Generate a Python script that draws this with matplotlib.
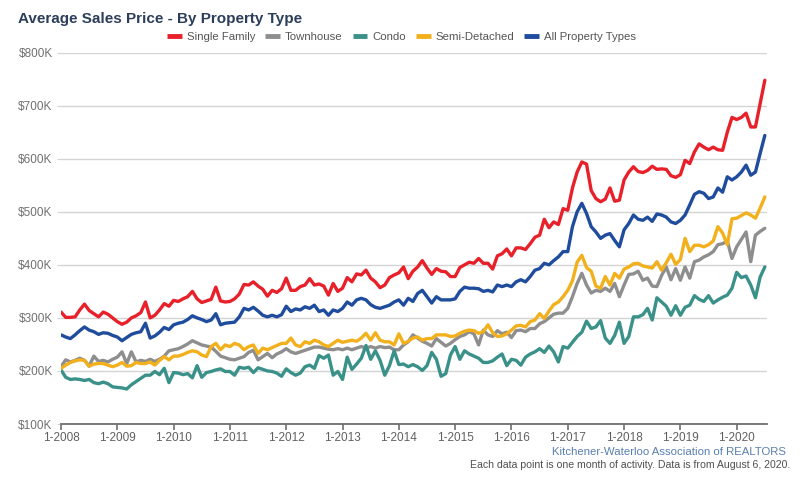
import matplotlib
matplotlib.use("Agg")
import matplotlib.pyplot as plt
from matplotlib.ticker import FuncFormatter, MultipleLocator

plt.rcParams['font.family'] = ['Liberation Sans', 'DejaVu Sans']

# monthly average prices in $K, Jan 2008 - Jul 2020
single_family = [
    311, 301, 301, 302, 315, 326, 314, 308, 302, 311, 307, 300,
    293, 288, 292, 300, 304, 310, 330, 300, 305, 315, 327, 322,
    333, 331, 336, 340, 350, 336, 329, 332, 335, 358, 332, 330,
    331, 336, 345, 363, 362, 368, 360, 354, 341, 352, 348, 355,
    375, 352, 352, 359, 362, 374, 362, 364, 360, 343, 365, 350,
    356, 376, 368, 383, 381, 390, 375, 368, 357, 362, 376, 381,
    385, 396, 374, 388, 396, 408, 394, 382, 393, 388, 387, 378,
    378, 395, 400, 405, 403, 412, 403, 403, 392, 417, 421, 430,
    417, 432, 432, 429, 440, 452, 456, 486, 470, 481, 476, 506,
    503, 545, 575, 594, 590, 540, 525, 519, 524, 545, 520, 522,
    560, 575, 585, 576, 574, 578, 586, 580, 581, 580, 568, 565,
    570, 597, 591, 613, 628, 622, 617, 622, 617, 616, 650, 678,
    674, 678, 686, 660, 660, 704, 748,
]
townhouse = [
    208, 221, 217, 220, 224, 220, 209, 228, 218, 220, 217, 222,
    226, 236, 214, 236, 217, 220, 218, 222, 218, 222, 228, 238,
    240, 242, 246, 251, 257, 253, 249, 247, 245, 237, 228, 225,
    222, 221, 224, 227, 235, 239, 221, 227, 233, 225, 232, 236,
    242, 236, 233, 236, 239, 242, 245, 245, 243, 241, 240, 242,
    240, 243, 240, 243, 246, 243, 246, 243, 246, 244, 245, 240,
    240, 249, 255, 268, 262, 256, 252, 247, 261, 254, 247, 252,
    259, 265, 268, 274, 270, 249, 277, 268, 265, 276, 270, 273,
    263, 276, 277, 274, 280, 280, 289, 293, 300, 307, 309, 309,
    318, 340, 365, 384, 362, 347, 352, 350, 356, 350, 365, 340,
    362, 382, 383, 388, 371, 375, 360, 359, 380, 396, 372, 393,
    371, 396, 375, 406, 409, 415, 419, 425, 438, 440, 445, 412,
    434, 448, 462, 406, 456, 463, 469,
]
condo = [
    202, 188, 184, 185, 184, 182, 184, 178, 176, 179, 176, 170,
    169, 168, 166, 174, 180, 186, 192, 192, 199, 193, 205, 178,
    197, 196, 193, 195, 187, 210, 188, 197, 199, 202, 204, 199,
    199, 192, 207, 205, 207, 197, 206, 203, 200, 199, 196, 190,
    204, 197, 192, 196, 208, 211, 205, 229, 224, 230, 192, 199,
    184, 226, 203, 213, 224, 248, 222, 238, 220, 192, 210, 238,
    212, 213, 208, 212, 208, 201, 210, 235, 222, 190, 195, 230,
    246, 222, 238, 232, 228, 224, 216, 216, 219, 226, 232, 210,
    222, 220, 211, 226, 232, 236, 242, 235, 247, 236, 217, 246,
    243, 254, 265, 273, 294, 280, 283, 295, 262, 252, 267, 292,
    252, 265, 302, 302, 306, 318, 296, 338, 330, 322, 305, 323,
    305, 320, 324, 342, 335, 331, 342, 328, 334, 339, 343, 356,
    386, 376, 379, 362, 338, 377, 396,
]
semi_detached = [
    205, 211, 216, 219, 221, 220, 209, 213, 214, 214, 211, 208,
    211, 216, 209, 210, 216, 214, 214, 217, 211, 220, 227, 221,
    228, 228, 231, 235, 238, 236, 230, 227, 246, 252, 240, 249,
    246, 252, 249, 240, 246, 249, 233, 243, 240, 244, 248, 252,
    252, 262, 249, 246, 255, 252, 258, 255, 249, 246, 252, 258,
    254, 256, 258, 256, 262, 271, 258, 272, 258, 255, 255, 249,
    270, 252, 256, 262, 264, 258, 261, 261, 268, 268, 268, 265,
    266, 271, 275, 277, 276, 271, 274, 287, 272, 265, 266, 270,
    277, 285, 286, 283, 293, 296, 308, 299, 313, 325, 330, 340,
    352, 370, 405, 418, 395, 388, 360, 356, 378, 362, 384, 375,
    392, 396, 402, 403, 398, 396, 394, 406, 390, 404, 420, 401,
    410, 450, 425, 437, 437, 434, 438, 445, 472, 460, 438, 487,
    488, 493, 498, 494, 488, 507, 528,
]
all_types = [
    268, 264, 261, 268, 276, 283, 277, 274, 269, 272, 271, 267,
    264, 257, 263, 269, 272, 274, 290, 262, 266, 273, 282, 278,
    287, 290, 292, 297, 304, 300, 297, 293, 296, 308, 287, 290,
    291, 292, 302, 318, 315, 320, 313, 305, 302, 305, 302, 306,
    322, 312, 317, 315, 321, 318, 324, 312, 315, 305, 315, 312,
    318, 330, 324, 334, 337, 334, 325, 320, 318, 321, 324, 330,
    334, 324, 337, 331, 346, 352, 340, 328, 340, 334, 334, 334,
    336, 350, 358, 356, 356, 355, 350, 352, 349, 362, 359, 362,
    359, 368, 372, 368, 378, 390, 393, 403, 400, 408, 415, 425,
    425, 472, 500, 516, 497, 472, 462, 450, 456, 459, 446, 434,
    466, 478, 494, 486, 484, 490, 482, 496, 494, 490, 481, 478,
    484, 494, 513, 533, 538, 535, 525, 528, 545, 537, 566, 560,
    566, 575, 588, 569, 575, 610, 644,
]

year_labels = ['1-2008', '1-2009', '1-2010', '1-2011', '1-2012', '1-2013', '1-2014',
               '1-2015', '1-2016', '1-2017', '1-2018', '1-2019', '1-2020']

series = [
    ('Single Family', single_family, '#e8202a'),
    ('Townhouse', townhouse, '#8e8e8e'),
    ('Condo', condo, '#3a9189'),
    ('Semi-Detached', semi_detached, '#f2b01c'),
    ('All Property Types', all_types, '#1f4c9c'),
]

fig = plt.figure(figsize=(8.03, 4.91), dpi=100)
ax = fig.add_axes([61 / 803, 1 - 424 / 491, (766.7 - 61) / 803, (424 - 52.7) / 491])

for name, vals, color in series:
    ax.plot(range(len(vals)), vals, color=color, lw=2.4, label=name,
            solid_joinstyle='round', solid_capstyle='round')

ax.set_xlim(0, 150.4)
ax.set_ylim(100, 800)
ax.set_xticks(range(0, 12 * len(year_labels), 12))
ax.set_xticklabels(year_labels)
ax.yaxis.set_major_locator(MultipleLocator(100))
ax.yaxis.set_major_formatter(FuncFormatter(lambda v, p: '${:.0f}K'.format(v)))

ax.grid(axis='y', color='#d4d4d4', lw=1)
ax.set_axisbelow(True)
for s in ['top', 'right', 'left']:
    ax.spines[s].set_visible(False)
ax.spines['bottom'].set_color('#6e6e6e')
ax.spines['bottom'].set_linewidth(1.3)
ax.tick_params(axis='y', length=3, color='#d4d4d4', labelcolor='#707070', labelsize=8.5, pad=3)
ax.tick_params(axis='x', length=4, width=1.2, color='#6e6e6e', labelcolor='#606060', labelsize=8.5, pad=2)

fig.legend(loc='center', bbox_to_anchor=(0.5, 1 - 37 / 491), ncol=5, frameon=False,
           fontsize=8.2, handlelength=1.3, handletextpad=0.4, columnspacing=0.9,
           labelcolor='#555555')
for line in fig.legends[0].get_lines():
    line.set_linewidth(3.5)
    line.set_solid_capstyle('butt')

fig.text(18 / 803, 1 - 19 / 491, 'Average Sales Price - By Property Type', fontsize=11,
         fontweight='bold', color='#2c3e5a', ha='left', va='center')
fig.text(786 / 803, 1 - 452 / 491, 'Kitchener-Waterloo Association of REALTORS', fontsize=8.2,
         color='#5a7fae', ha='right', va='center')
fig.text(790 / 803, 1 - 465 / 491,
         'Each data point is one month of activity. Data is from August 6, 2020.',
         fontsize=7.6, color='#505050', ha='right', va='center')

fig.savefig('out.png', dpi=100)
